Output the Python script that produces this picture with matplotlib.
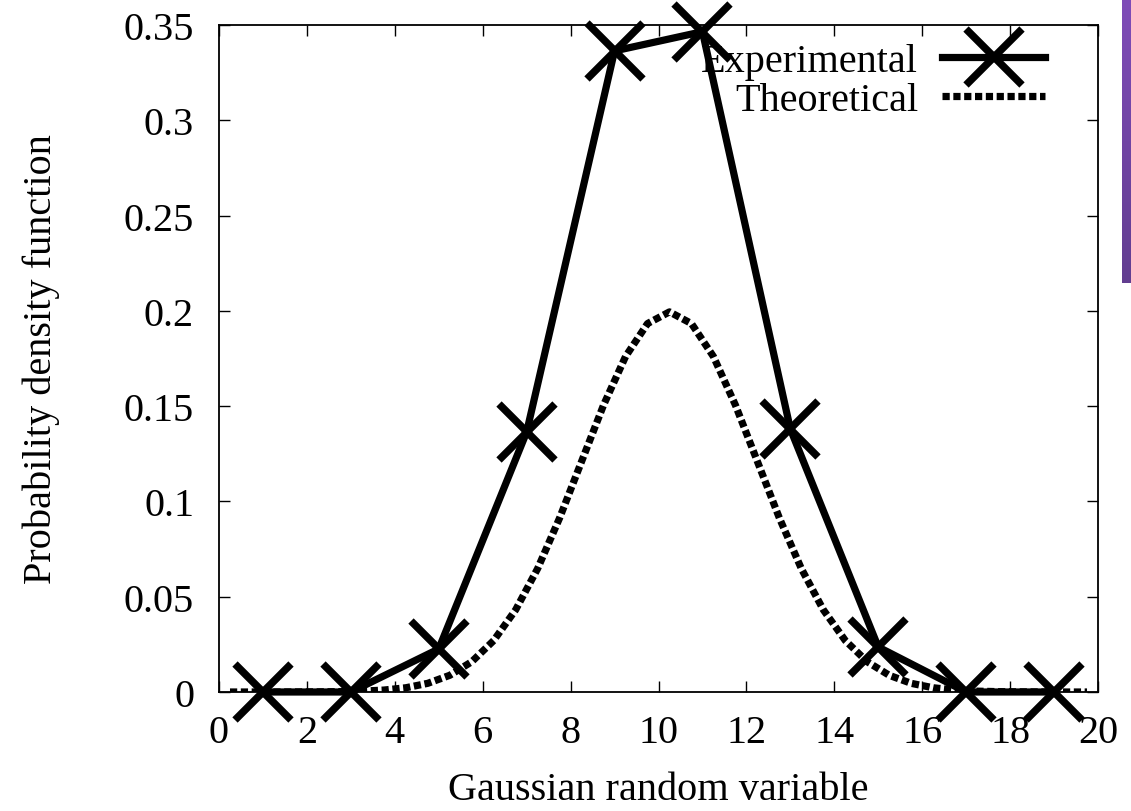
import numpy as np
import matplotlib
matplotlib.use("Agg")
import matplotlib.pyplot as plt
from matplotlib.lines import Line2D
from matplotlib.colors import LinearSegmentedColormap

# Experimental data
exp_x = [1, 3, 5, 7, 9, 11, 13, 15, 17, 19]
exp_y = [0.0, 0.0, 0.0226, 0.1364, 0.3364, 0.3465, 0.138, 0.0236, 0.0, 0.0]

# Theoretical curve
theo_x = [0.25, 0.75, 1.25, 1.75, 2.25, 2.75, 3.25, 3.75, 4.25, 4.75,
          5.25, 5.75, 6.25, 6.75, 7.25, 7.75, 8.25, 8.75, 9.25, 9.75,
          10.25, 10.75, 11.25, 11.75, 12.25, 12.75, 13.25, 13.75, 14.25, 14.75,
          15.25, 15.75, 16.25, 16.75, 17.25, 17.75, 18.25, 18.75, 19.25, 19.75]
theo_y = [0.0, 0.0, 0.0, 0.00002, 0.00007, 0.00018, 0.00044, 0.00101, 0.00222, 0.00455,
          0.00876, 0.01587, 0.02700, 0.04314, 0.06476, 0.09132, 0.12099, 0.15057, 0.17603, 0.19333,
          0.19947, 0.19333, 0.17603, 0.15057, 0.12099, 0.09132, 0.06476, 0.04314, 0.02700, 0.01587,
          0.00876, 0.00455, 0.00222, 0.00101, 0.00044, 0.00018, 0.00007, 0.00002, 0.0, 0.0]

xticks = [0, 2, 4, 6, 8, 10, 12, 14, 16, 18, 20]
yticks = [0, 0.05, 0.1, 0.15, 0.2, 0.25, 0.3, 0.35]
ytick_labels = ["0", "0.05", "0.1", "0.15", "0.2", "0.25", "0.3", "0.35"]

plt.rcParams['font.family'] = ['Liberation Serif', 'DejaVu Serif']

W, H = 1131, 812
fig = plt.figure(figsize=(W / 100, H / 100), dpi=100)
ax = fig.add_axes([219 / W, 1 - 693 / H, (1098 - 219) / W, (693 - 26) / H])

dot_style = (0, (1.0, 0.5))
ax.plot(theo_x, theo_y, color='black', lw=5.2, linestyle=dot_style,
        dash_capstyle='butt', label='Theoretical', zorder=2)
ax.plot(exp_x, exp_y, color='black', lw=5.2, marker='x', markersize=40,
        markeredgewidth=5.4, label='Experimental', zorder=3, clip_on=False)

ax.set_xlim(0, 20)
ax.set_ylim(0, 0.35)
ax.set_xticks(xticks)
ax.set_xticklabels([str(t) for t in xticks])
ax.set_yticks(yticks)
ax.set_yticklabels(ytick_labels)
ax.tick_params(direction='in', length=8, width=1, top=True, right=True,
               labelsize=29)
ax.tick_params(axis='y', pad=18)
ax.tick_params(axis='x', pad=16)
for s in ax.spines.values():
    s.set_linewidth(1.3)

ax.set_xlabel('Gaussian random variable', fontsize=29, labelpad=14)
ax.set_ylabel('Probability density function', fontsize=29, labelpad=46)

h_exp = Line2D([], [], color='black', lw=5.2, marker='x', markersize=40,
               markeredgewidth=5.4)
h_theo = Line2D([], [], color='black', lw=5.2, linestyle=dot_style,
                dash_capstyle='butt')
leg = ax.legend([h_exp, h_theo], ['Experimental', 'Theoretical'],
                loc='upper right', bbox_to_anchor=(0.958, 0.998), frameon=False,
                markerfirst=False, fontsize=29, handlelength=2.55,
                handletextpad=0.6, labelspacing=0.05, borderaxespad=0.0)
for t in leg.get_texts():
    t.set_ha('right')

# purple strip at right edge
strip = fig.add_axes([1122 / W, 1 - 284 / H, 9 / W, 284 / H])
grad = np.linspace(0, 1, 256).reshape(-1, 1)
cmap = LinearSegmentedColormap.from_list('p', ['#7f4bb8', '#623d90'])
strip.imshow(grad, aspect='auto', cmap=cmap)
strip.axis('off')

fig.savefig('out.png', dpi=100)
